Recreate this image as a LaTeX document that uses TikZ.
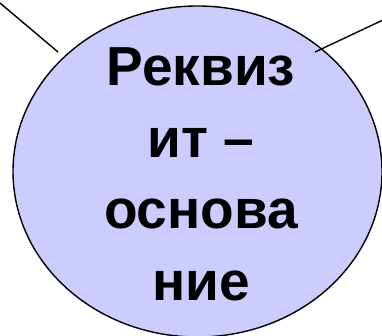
\documentclass[tikz,border=0pt]{standalone}
\usepackage{fontspec}
\setmainfont{Liberation Sans}
\usetikzlibrary{shapes.geometric}
\definecolor{lavender}{HTML}{CCCCFF}

\begin{document}
\begin{tikzpicture}[x=1pt,y=-1pt,line width=1.4pt,
    bubble/.style={ellipse,draw=black,fill=lavender,minimum width=369pt,minimum height=331pt,inner sep=0pt},
    word/.style={align=center,inner sep=0pt,font=\fontsize{55}{71.7}\selectfont\bfseries}]
\useasboundingbox (0,0) rectangle (382,336);
\node[bubble] (req) at (197.5,171.5) {};
\node[word,anchor=north] (reqtext) at (201,47) {Реквиз\\ит –\\основа\\ние};
% the two links running off the page
\coordinate (nwout) at (0,3);
\coordinate (nwin) at (58,52);
\coordinate (neout) at (383,20);
\coordinate (nein) at (315,52);
\draw (nwout) -- (nwin);
\draw (neout) -- (nein);
\end{tikzpicture}
\end{document}
